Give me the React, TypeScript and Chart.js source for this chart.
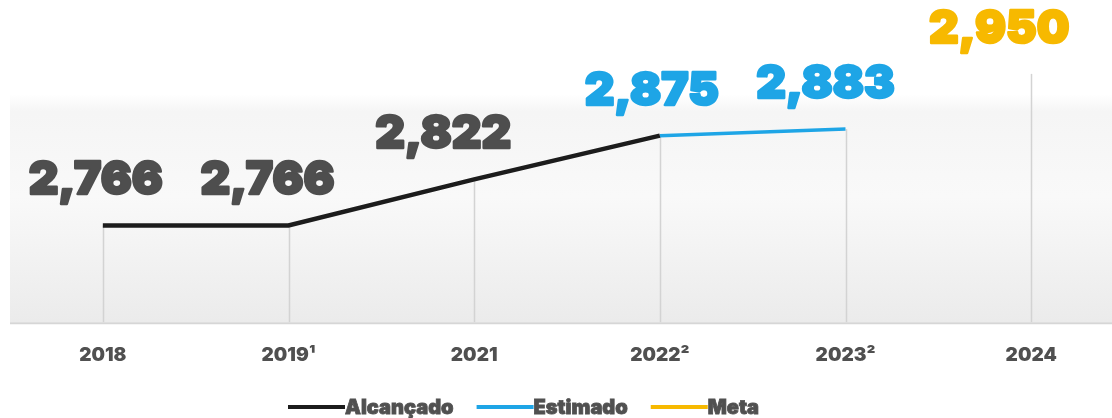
import React, { useEffect, useRef } from 'react';
import { Chart, registerables } from 'chart.js';

Chart.register(...registerables);

const categories = ['2018', '2019¹', '2021', '2022²', '2023²', '2024'];
const alcancado = [2766, 2766, 2822, 2875, null, null];
const estimado = [null, null, null, 2875, 2883, null];
const meta = [null, null, null, null, null, 2950];
const seriesNames = ['Alcançado', 'Estimado', 'Meta'];

const FONT = 'Inter, "Noto Sans", sans-serif';
const COLORS = { dark: '#1c1c1c', blue: '#1ea5e6', yellow: '#f7b900', label: '#4e4e4e' };
const LABEL_COLORS = [COLORS.label, COLORS.blue, COLORS.yellow];
const LABEL_SHIFT_X = [-7, -21, -31, -8, -20, -32];

const backgroundPlugin = {
  id: 'bgPanel',
  beforeDraw(chart: any) {
    const { ctx, chartArea } = chart;
    const bottom = chartArea.bottom;
    const top = bottom - 228;
    ctx.save();
    const g = ctx.createLinearGradient(0, top, 0, bottom);
    g.addColorStop(0, 'rgba(244,244,244,0)');
    g.addColorStop(0.08, '#f5f5f5');
    g.addColorStop(0.45, '#f9f9f9');
    g.addColorStop(1, '#ebebeb');
    ctx.fillStyle = g;
    ctx.fillRect(chartArea.left, top, chart.width - chartArea.left, bottom - top);
    ctx.restore();
  },
};

const dropLinePlugin = {
  id: 'dropLines',
  beforeDatasetsDraw(chart: any) {
    const { ctx, chartArea, scales } = chart;
    ctx.save();
    ctx.strokeStyle = '#d3d3d3';
    ctx.lineWidth = 1.5;
    categories.forEach((_, i) => {
      let top: number | null = null;
      chart.data.datasets.forEach((ds: any) => {
        const v = ds.data[i];
        if (v != null && (top == null || v > top)) top = v;
      });
      if (top == null) return;
      const x = Math.round(scales.x.getPixelForValue(i)) + 0.5;
      ctx.beginPath();
      ctx.moveTo(x, scales.y.getPixelForValue(top));
      ctx.lineTo(x, chartArea.bottom);
      ctx.stroke();
    });
    ctx.strokeStyle = '#d6d6d6';
    ctx.lineWidth = 2;
    ctx.beginPath();
    ctx.moveTo(chartArea.left, chartArea.bottom + 1);
    ctx.lineTo(chart.width, chartArea.bottom + 1);
    ctx.stroke();
    ctx.restore();
  },
};

const valueLabelPlugin = {
  id: 'valueLabels',
  afterDatasetsDraw(chart: any) {
    const { ctx, scales } = chart;
    const sets = chart.data.datasets;
    ctx.save();
    ctx.font = `900 46px ${FONT}`;
    ctx.textAlign = 'center';
    ctx.textBaseline = 'alphabetic';
    ctx.lineJoin = 'round';
    ctx.lineWidth = 2.5;
    sets.forEach((ds: any, d: number) => {
      ds.data.forEach((v: number | null, i: number) => {
        if (v == null) return;
        for (let k = d + 1; k < sets.length; k++) if (sets[k].data[i] != null) return;
        const x = scales.x.getPixelForValue(i) + LABEL_SHIFT_X[i];
        const y = scales.y.getPixelForValue(v) - 31;
        const txt = v.toLocaleString('en-US');
        ctx.fillStyle = LABEL_COLORS[d];
        ctx.strokeStyle = LABEL_COLORS[d];
        ctx.strokeText(txt, x, y);
        ctx.fillText(txt, x, y);
      });
    });
    ctx.restore();
  },
};

const LEGEND = { startX: 288, y: 407, line: 57, gap: 23, lineWidth: 4 };
const legendPlugin = {
  id: 'lineLegend',
  afterDraw(chart: any) {
    const { ctx } = chart;
    ctx.save();
    ctx.font = `900 20px ${FONT}`;
    ctx.textBaseline = 'middle';
    ctx.textAlign = 'left';
    ctx.lineWidth = 0.8;
    let x = LEGEND.startX;
    chart.data.datasets.forEach((ds: any) => {
      ctx.fillStyle = ds.borderColor;
      ctx.fillRect(x, LEGEND.y - LEGEND.lineWidth / 2, LEGEND.line, LEGEND.lineWidth);
      x += LEGEND.line;
      ctx.fillStyle = '#505050';
      ctx.strokeStyle = '#505050';
      ctx.strokeText(ds.label, x, LEGEND.y + 1);
      ctx.fillText(ds.label, x, LEGEND.y + 1);
      x += ctx.measureText(ds.label).width + LEGEND.gap;
    });
    ctx.restore();
  },
};

export default function App() {
  const ref = useRef<HTMLCanvasElement>(null);
  useEffect(() => {
    if (!ref.current) return;
    const chart = new Chart(ref.current, {
      type: 'line',
      data: {
        labels: categories,
        datasets: [
          { label: seriesNames[0], data: alcancado, borderColor: COLORS.dark, backgroundColor: COLORS.dark, borderWidth: 4.5, pointRadius: 0, tension: 0 },
          { label: seriesNames[1], data: estimado, borderColor: COLORS.blue, backgroundColor: COLORS.blue, borderWidth: 3.5, pointRadius: 0, tension: 0 },
          { label: seriesNames[2], data: meta, borderColor: COLORS.yellow, backgroundColor: COLORS.yellow, borderWidth: 3.5, pointRadius: 0, tension: 0 },
        ],
      },
      options: {
        animation: false,
        responsive: true,
        maintainAspectRatio: false,
        layout: { padding: { top: 20, left: 10, right: 0, bottom: 37 } },
        scales: {
          x: {
            offset: true,
            grid: { display: false },
            border: { display: false },
            ticks: { color: '#505050', padding: 14, font: { family: FONT, size: 19, weight: 900 } },
          },
          y: { display: false, min: 2648.6, max: 3015.4 },
        },
        plugins: {
          tooltip: { enabled: false },
          legend: { display: false },
        },
      },
      plugins: [backgroundPlugin, dropLinePlugin, valueLabelPlugin, legendPlugin],
    });
    return () => chart.destroy();
  }, []);
  return (
    <div style={{ position: 'fixed', left: 0, top: 0, width: 1112, height: 418, overflow: 'hidden', background: '#fff' }}>
      <div style={{ width: 1124, height: 418, position: 'relative' }}>
        <canvas ref={ref} />
      </div>
    </div>
  );
}
